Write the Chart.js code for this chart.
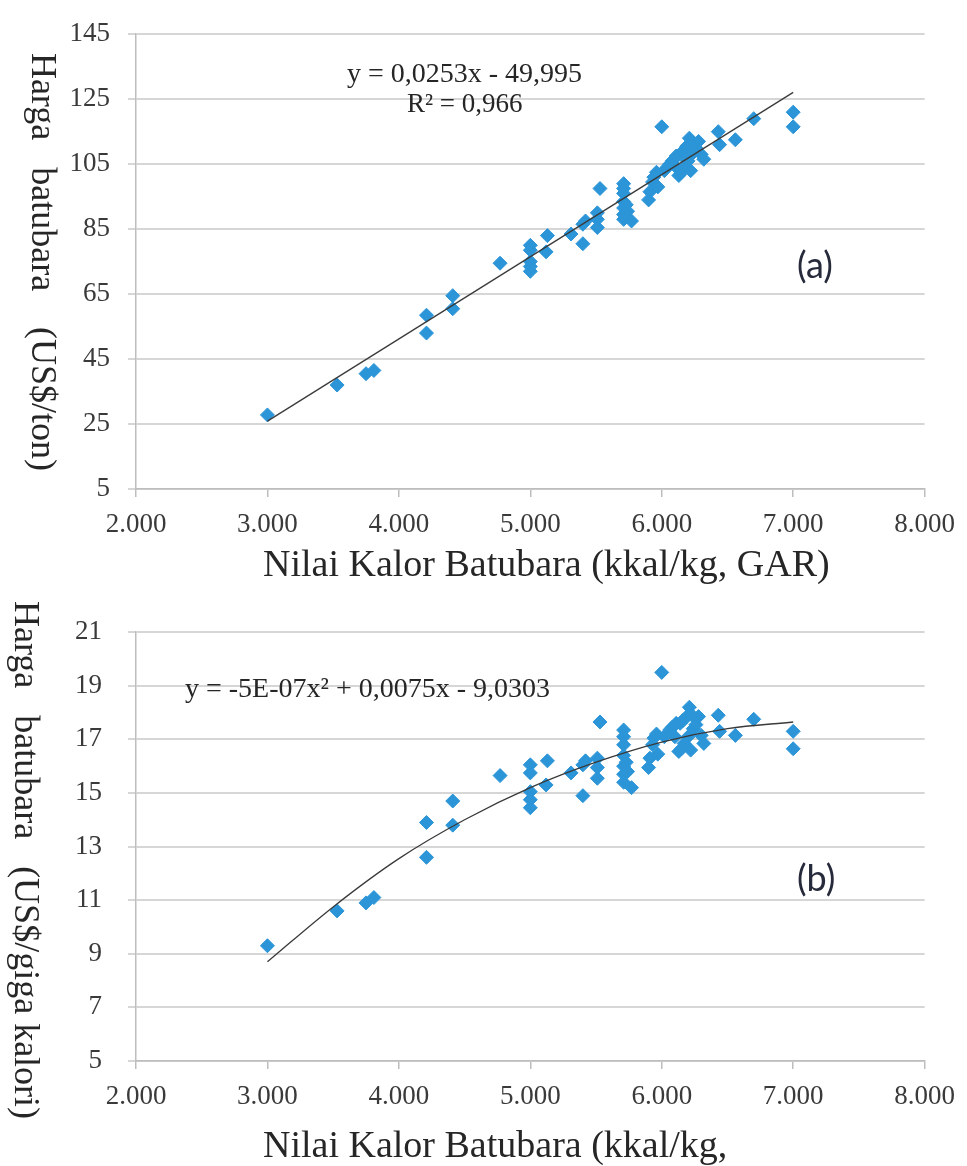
<!DOCTYPE html>
<html>
<head>
<meta charset="utf-8">
<script src="https://cdn.jsdelivr.net/npm/chart.js@4.4.1/dist/chart.umd.min.js"></script>
<style>
  html, body { margin: 0; padding: 0; background: #fff; }
  #wrap { position: relative; width: 967px; height: 1166px; }
  canvas { position: absolute; left: 0; }
  #chartA { top: 0; }
  #chartB { top: 590px; }
</style>
</head>
<body>
<div id="wrap">
  <canvas id="chartA" width="967" height="590"></canvas>
  <canvas id="chartB" width="967" height="576"></canvas>
</div>
<script>
// Nilai kalor tiap sampel (kkal/kg, GAR)
const kalor = [
  3000, 3530, 3750, 3810, 4210, 4210, 4410, 4410, 4770,
  5000, 5000, 5000, 5000, 5000, 5120, 5130, 5310, 5400, 5400, 5420,
  5530, 5510, 5510, 5510,
  5710, 5710, 5710, 5710, 5710, 5710, 5710, 5730, 5740, 5770,
  5900, 5910, 5930, 5940, 5960, 5970, 6000, 6020, 6040, 6060,
  6080, 6100, 6110, 6130, 6140, 6150, 6160, 6170, 6190, 6200,
  6210, 6220, 6230, 6240, 6260, 6280, 6300, 6320,
  6430, 6440, 6560, 6700, 7000, 7000
];
// (a) Harga batubara, US$/ton
const hargaTon = [
  27.8, 37.0, 40.5, 41.5, 58.5, 53.0, 64.5, 60.5, 74.5,
  80.0, 78.5, 75.0, 73.5, 72.0, 78.0, 83.0, 83.5, 80.5, 86.5, 87.5,
  97.5, 90.0, 88.0, 85.5,
  99.0, 97.5, 96.0, 93.5, 91.5, 89.5, 88.0, 92.5, 90.5, 87.5,
  94.0, 96.5, 99.5, 101.0, 102.5, 98.0, 116.5, 103.0, 104.0, 105.0,
  106.0, 104.5, 107.5, 101.5, 108.0, 102.5, 109.0, 104.0, 110.5, 106.0,
  113.0, 103.0, 111.5, 108.5, 110.0, 112.0, 108.0, 106.5,
  115.0, 111.0, 112.5, 119.0, 121.0, 116.5
];
// (b) Harga batubara, US$/giga kalori
const hargaGiga = [
  9.3, 10.6, 10.9, 11.1, 13.9, 12.6, 14.7, 13.8, 15.65,
  16.05, 15.75, 15.05, 14.75, 14.45, 15.3, 16.2, 15.75, 14.9, 16.05, 16.2,
  17.65, 16.3, 15.95, 15.55,
  17.35, 17.1, 16.8, 16.4, 16.0, 15.7, 15.4, 16.15, 15.8, 15.2,
  15.95, 16.3, 16.8, 17.05, 17.2, 16.45, 19.5, 17.1, 17.2, 17.35,
  17.45, 17.1, 17.6, 16.55, 17.6, 16.65, 17.7, 16.85, 17.85, 17.1,
  18.2, 16.6, 17.9, 17.4, 17.55, 17.85, 17.15, 16.85,
  17.9, 17.3, 17.15, 17.75, 17.3, 16.65
];

// garis tren seperti terbaca di gambar
const trendAX = [3000, 7000];
const trendAY = [25.9, 127.1];
const trendBX = [3000, 3500, 4000, 4500, 5000, 5500, 6000, 6500, 7000];
const trendBY = [8.7, 10.75, 12.55, 14.0, 15.2, 16.15, 16.9, 17.4, 17.65];

// tick
const xTicks = [2000, 3000, 4000, 5000, 6000, 7000, 8000];
const yTicksA = [5, 25, 45, 65, 85, 105, 125, 145];
const yTicksB = [5, 7, 9, 11, 13, 15, 17, 19, 21];

const SERIF = '"Liberation Serif", "Times New Roman", serif';
const BLUE = '#2b95d8';
const GRID = '#d6d6d6';

function pairs(xs, ys) {
  return xs.map((x, i) => ({ x: x, y: ys[i] }));
}

function fmtThousand(v) {
  return String(v).replace(/\B(?=(\d{3})+(?!\d))/g, '.');
}

// draws axis titles and annotations that Chart.js can't place this way
function textPlugin(items) {
  return {
    id: 'texts',
    afterDraw(chart) {
      const ctx = chart.ctx;
      items.forEach(t => {
        ctx.save();
        ctx.font = t.font;
        ctx.fillStyle = t.color || '#262626';
        ctx.textAlign = t.align || 'left';
        ctx.textBaseline = t.baseline || 'alphabetic';
        ctx.translate(t.x, t.y);
        if (t.rotate) ctx.rotate(t.rotate);
        ctx.fillText(t.text, 0, 0);
        ctx.restore();
      });
    }
  };
}

function makeChart(id, cfg) {
  return new Chart(document.getElementById(id), {
    type: 'scatter',
    data: {
      datasets: [
        {
          type: 'line',
          data: pairs(cfg.trendX, cfg.trendY),
          borderColor: '#3a3a3a',
          borderWidth: 1.3,
          pointRadius: 0,
          fill: false,
          tension: cfg.curved ? 0.35 : 0,
          order: 0
        },
        {
          data: pairs(kalor, cfg.values),
          pointStyle: 'rectRot',
          pointRadius: 7,
          pointHoverRadius: 7,
          backgroundColor: BLUE,
          borderColor: BLUE,
          borderWidth: 1,
          order: 1
        }
      ]
    },
    options: {
      responsive: false,
      animation: false,
      layout: { padding: { left: 0, right: cfg.padRight, top: cfg.padTop, bottom: 0 } },
      plugins: { legend: { display: false }, tooltip: { enabled: false } },
      scales: {
        x: {
          type: 'linear',
          min: 2000, max: 8000,
          afterBuildTicks: s => { s.ticks = xTicks.map(v => ({ value: v })); },
          afterFit: s => { s.height = cfg.xHeight; },
          grid: { drawOnChartArea: false, drawTicks: true, tickLength: 8, color: '#bdbdbd', lineWidth: 1.5 },
          border: { display: true, color: '#bdbdbd', width: 1.5 },
          ticks: {
            padding: 12,
            color: '#3a3a3a',
            font: { family: SERIF, size: 27 },
            maxRotation: 0,
            callback: v => fmtThousand(v)
          }
        },
        y: {
          type: 'linear',
          min: cfg.yTicks[0], max: cfg.yTicks[cfg.yTicks.length - 1],
          afterBuildTicks: s => { s.ticks = cfg.yTicks.map(v => ({ value: v })); },
          afterFit: s => { s.width = 136; },
          grid: { color: GRID, lineWidth: 2, tickLength: 8 },
          border: { display: true, color: '#bdbdbd', width: 1.5 },
          ticks: {
            padding: cfg.yPad,
            color: '#3a3a3a',
            font: { family: SERIF, size: 27 }
          }
        }
      }
    },
    plugins: [textPlugin(cfg.texts)]
  });
}

makeChart('chartA', {
  values: hargaTon,
  trendX: trendAX, trendY: trendAY, curved: false,
  yTicks: yTicksA,
  padRight: 38, padTop: 24, xHeight: 101, yPad: 18,
  texts: [
    { text: 'Nilai Kalor Batubara (kkal/kg, GAR)', x: 263, y: 576, font: '38px ' + SERIF },
    { text: 'Harga   batubara    (US$/ton)', x: 32, y: 262, font: '36px ' + SERIF,
      align: 'center', rotate: Math.PI / 2 },
    { text: 'y = 0,0253x - 49,995', x: 347, y: 82, font: '28px ' + SERIF },
    { text: 'R\u00b2 = 0,966', x: 407, y: 112, font: '27px ' + SERIF },
    { text: '(a)', x: 797, y: 266, font: '36px Lato, "Open Sans", sans-serif',
      baseline: 'middle', color: '#262a3a' }
  ]
});

makeChart('chartB', {
  values: hargaGiga,
  trendX: trendBX, trendY: trendBY, curved: true,
  yTicks: yTicksB,
  padRight: 34, padTop: 10, xHeight: 105, yPad: 26,
  texts: [
    { text: 'Nilai Kalor Batubara (kkal/kg,', x: 263, y: 567, font: '38px ' + SERIF },
    { text: 'Harga   batubara   (US$/giga kalori)', x: 15, y: 270, font: '36px ' + SERIF,
      align: 'center', rotate: Math.PI / 2 },
    { text: 'y = -5E-07x\u00b2 + 0,0075x - 9,0303', x: 185, y: 107, font: '28px ' + SERIF },
    { text: '(b)', x: 797, y: 289, font: '36px Lato, "Open Sans", sans-serif',
      baseline: 'middle', color: '#262a3a' }
  ]
});
</script>
</body>
</html>
